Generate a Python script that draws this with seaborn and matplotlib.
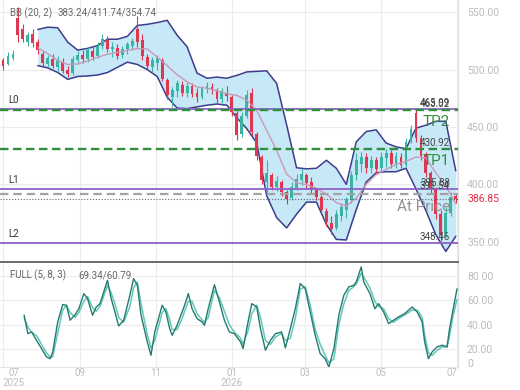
import numpy as np
import pandas as pd
import matplotlib
matplotlib.use("Agg")
import matplotlib.pyplot as plt
from matplotlib.transforms import blended_transform_factory
import seaborn as sns

# ---------------- data ----------------
candle_start = "2025-07-01"
candle_step_days = 4

opens = [508, 505, 510, 545, 535, 524, 531, 524, 514, 505,
         509, 502, 507, 500, 497, 508, 513, 509, 516, 512,
         521, 526, 518, 519, 513, 518, 521, 535, 526, 511,
         502, 506, 508, 491, 476, 481, 487, 480, 486, 480,
         476, 483, 485, 482, 474, 480, 476, 462, 444, 460,
         480, 444, 424, 402, 408, 398, 402, 393, 388, 397,
         404, 408, 402, 395, 389, 377, 366, 362, 372, 378,
         386, 408, 418, 424, 414, 421, 414, 423, 427, 418,
         424, 417, 438, 462, 440, 426, 410, 396, 374, 357,
         375, 390]
highs = [510, 515, 517, 555, 540, 533, 535, 527, 516, 513,
         514, 512, 510, 503, 512, 516, 517, 520, 521, 524,
         531, 529, 524, 522, 521, 524, 528, 547, 531, 514,
         511, 513, 510, 493, 485, 491, 490, 489, 488, 484,
         486, 489, 488, 484, 484, 486, 478, 464, 463, 482,
         484, 446, 426, 421, 410, 407, 404, 395, 402, 409,
         413, 410, 406, 397, 391, 379, 372, 378, 384, 389,
         412, 427, 428, 427, 425, 424, 428, 431, 430, 428,
         427, 440, 452, 466, 443, 428, 412, 398, 378, 380,
         393, 392]
lows = [500, 504, 508, 524, 524, 521, 520, 514, 503, 502,
        501, 499, 497, 494, 495, 505, 506, 507, 508, 510,
        518, 515, 511, 509, 510, 514, 517, 520, 508, 500,
        498, 500, 490, 474, 467, 476, 477, 476, 476, 472,
        474, 480, 479, 471, 471, 473, 460, 439, 441, 458,
        442, 421, 400, 393, 395, 394, 390, 383, 386, 395,
        399, 397, 392, 386, 375, 364, 357, 360, 368, 371,
        384, 404, 411, 410, 410, 410, 412, 415, 414, 414,
        414, 415, 436, 437, 421, 406, 392, 370, 351, 354,
        372, 384]
closes = [503, 512, 514, 530, 527, 530, 523, 517, 506, 510,
          503, 508, 499, 496, 509, 513, 509, 517, 511, 521,
          527, 518, 520, 512, 518, 522, 525, 524, 512, 503,
          508, 510, 492, 478, 482, 488, 480, 486, 479, 476,
          484, 486, 483, 474, 481, 477, 463, 443, 460, 478,
          446, 425, 404, 410, 398, 403, 393, 387, 398, 405,
          409, 401, 395, 389, 378, 367, 361, 374, 380, 386,
          408, 421, 424, 414, 421, 413, 424, 427, 418, 425,
          417, 437, 448, 440, 425, 410, 396, 374, 356, 375,
          389, 386.85]

# Bollinger band values, read at every second candle starting with candle 7
bb_first_candle = 7
bb_upper = [535, 537, 536.5, 524, 517, 518.5, 521, 526.5, 526.5, 529,
            538.5, 539.5, 541, 543, 530, 520, 497, 492.5, 493.5, 492.5,
            495, 498, 498.5, 499, 488, 452, 414.5, 413.5, 414, 421,
            414, 400, 437, 446, 447.5, 436, 432.7, 431, 449, 451.5,
            455, 455, 411.74]
bb_middle = [519, 514, 508, 504.5, 505, 507.5, 510.7, 513.5, 515, 516.8,
             518.3, 518, 511, 503.5, 495.5, 489.5, 484.8, 483.8, 481.5, 479,
             477.5, 473.5, 464.5, 447, 429.5, 409, 401.5, 399.7, 396.5, 391.5,
             384, 381, 388, 400, 408.5, 413, 417.5, 420, 423.8, 423,
             410, 398.5, 383.24]
bb_lower = [503.5, 501.5, 497.5, 491.5, 494, 494.5, 495.3, 497.5, 502, 506.5,
            504.5, 500, 494, 476, 466.5, 466, 467.5, 469, 470, 469,
            458, 448.5, 436, 390, 371, 362, 374, 384.5, 384.5, 365,
            352, 351.5, 378, 402, 410, 411, 411, 414, 396, 377,
            356, 341.5, 354.74]

# Full stochastic (5, 8, 3): day offsets from candle_start, %K and %D
stoch_day = [17, 20, 23, 27, 31, 35, 38, 40, 44, 48,
             51, 54, 58, 61, 65, 68, 72, 75, 78, 84,
             87, 90, 93, 97, 102, 105, 108, 111, 116, 119,
             122, 128, 131, 134, 136, 140, 144, 146, 149, 152,
             156, 160, 162, 165, 170, 174, 178, 182, 186, 191,
             193, 197, 200, 204, 207, 211, 215, 219, 224, 227,
             231, 235, 239, 243, 247, 251, 255, 259, 262, 266,
             270, 274, 278, 282, 284, 288, 290, 295, 299, 302,
             306, 310, 314, 318, 323, 329, 333, 337, 339, 342,
             345, 349, 353, 357, 359, 362, 365]
stoch_k = [47.8, 32.7, 34.1, 27.3, 20.5, 13.7, 12.3, 17.8, 42.3, 56.4,
           55.9, 43.7, 48.2, 53.1, 65.4, 61.3, 47.8, 54.5, 57.2, 76.3,
           61.3, 50.4, 39.0, 43.7, 64.0, 77.6, 72.2, 47.8, 26.0, 15.1,
           34.1, 55.9, 50.4, 36.8, 31.4, 39.6, 50.4, 55.9, 65.4, 53.1,
           45.0, 42.3, 39.6, 53.1, 72.7, 58.6, 43.7, 34.1, 32.7, 26.0,
           20.5, 42.3, 57.2, 54.5, 36.8, 19.2, 27.3, 32.7, 34.1, 21.1,
           36.8, 53.1, 73.6, 69.5, 50.4, 31.4, 16.4, 12.3, 5.5, 20.5,
           47.8, 64.0, 70.9, 72.2, 74.9, 87.2, 74.9, 65.4, 53.1, 57.2,
           50.4, 40.9, 43.7, 46.4, 49.1, 54.5, 50.4, 42.3, 26.0, 12.3,
           17.8, 21.9, 23.3, 21.9, 36.8, 53.1, 69.34]
stoch_d = [46, 38, 34, 31, 24, 17, 13.5, 14, 33, 52,
           56, 50, 46, 50, 59, 63, 54, 51, 55, 72,
           66, 57, 46, 42, 55, 70, 75, 57, 32, 21,
           27, 50, 53, 44, 36, 36, 45, 51, 59, 59,
           49, 44, 42, 46, 68, 62, 51, 40, 34, 29,
           24, 35, 49, 56, 46, 27, 24, 30, 33, 27,
           29, 45, 69, 71, 56, 36, 24, 15, 9, 12,
           40, 57, 68, 71, 73, 82, 79, 70, 59, 55,
           53, 45, 42, 45, 48, 52, 52, 46, 32, 17,
           15, 19, 22, 22, 31, 48, 60.79]

# horizontal levels
level_names = ["L0", "L1", "L2"]
level_values = [465.99, 395.88, 348.46]
tp_names = ["TP2", "TP1"]
tp_values = [464.9, 430.92]
tp_labels = ["463.02", "430.92"]
entry_value = 391.54
last_price = 386.85

price_ticks = [350, 400, 450, 500, 550]
stoch_ticks = [20, 40, 60, 80]
month_ticks = ["2025-07-01", "2025-09-01", "2025-11-01", "2026-01-01",
               "2026-03-01", "2026-05-01", "2026-07-01"]
month_labels = ["07\n2025", "09", "11", "01\n2026", "03", "05", "07"]

# ---------------- styling ----------------
sns.set_theme(style="white")
plt.rcParams['font.family'] = ['Roboto', 'DejaVu Sans']

UP = "#3cb3a2"
DOWN = "#e0364f"
BAND_FILL = "#c6e8f7"
BAND_LINE = "#3e3c8c"
MID_LINE = "#c99ab8"
PURPLE = "#8d62c8"
GREEN = "#2f8f3c"
TICK_C = "#bdbdbd"
GRID_C = "#ececec"

W, H = 520, 390
fig = plt.figure(figsize=(W / 100, H / 100), dpi=100)


def px_rect(x0, y0, x1, y1):
    return [x0 / W, 1 - y1 / H, (x1 - x0) / W, (y1 - y0) / H]


ax = fig.add_axes(px_rect(0, 0, 458, 262))
ax2 = fig.add_axes(px_rect(0, 263, 458, 367), sharex=ax)

start = pd.Timestamp(candle_start)
df = pd.DataFrame({
    "date": pd.date_range(candle_start, periods=len(closes), freq=f"{candle_step_days}D"),
    "open": opens, "high": highs, "low": lows, "close": closes,
})
bb = pd.DataFrame({
    "date": df["date"].iloc[bb_first_candle::2].reset_index(drop=True),
    "upper": bb_upper, "middle": bb_middle, "lower": bb_lower,
})
st = pd.DataFrame({
    "date": start + pd.to_timedelta(stoch_day, unit="D"),
    "k": stoch_k, "d": stoch_d,
})

# Bollinger bands
ax.fill_between(bb["date"], bb["lower"], bb["upper"], color=BAND_FILL, lw=0, zorder=1)
sns.lineplot(data=bb, x="date", y="upper", ax=ax, color=BAND_LINE, lw=1.1, zorder=2)
sns.lineplot(data=bb, x="date", y="lower", ax=ax, color=BAND_LINE, lw=1.1, zorder=2)

# candles
colors = np.where(df["close"] >= df["open"], UP, DOWN)
ax.vlines(df["date"], df["low"], df["high"], colors=colors, lw=0.8, zorder=3)
body = (df["close"] - df["open"]).abs().clip(lower=0.8)
ax.bar(df["date"], body, bottom=np.minimum(df["open"], df["close"]), width=2.3,
       color=colors, lw=0, zorder=3)
sns.lineplot(data=bb, x="date", y="middle", ax=ax, color=MID_LINE, lw=1.0, zorder=4)

# horizontal levels
bt = blended_transform_factory(ax.transAxes, ax.transData)
for name, val in zip(level_names, level_values):
    ax.axhline(val, color=PURPLE, lw=1.3, zorder=5)
    ax.annotate(name, xy=(8 / 458, val), xycoords=bt, xytext=(0, 9),
                textcoords="offset pixels", ha="left", va="center",
                fontsize=7, color="#333333")
    ax.annotate(f"{val:.2f}", xy=(450 / 458, val), xycoords=bt, xytext=(0, 6),
                textcoords="offset pixels", ha="right", va="center",
                fontsize=7, color="#444444", zorder=7)
for name, val, lab in zip(tp_names, tp_values, tp_labels):
    ax.axhline(val, color=GREEN, lw=1.7, dashes=(3.6, 1.9), zorder=5)
    ax.annotate(lab, xy=(450 / 458, val), xycoords=bt, xytext=(0, 6),
                textcoords="offset pixels", ha="right", va="center",
                fontsize=7, color="#444444", zorder=7)
    ax.annotate(name, xy=(450 / 458, val), xycoords=bt, xytext=(0, -12),
                textcoords="offset pixels", ha="right", va="center",
                fontsize=11, color=GREEN, zorder=7)
ax.axhline(entry_value, color="#a3a3a3", lw=1.6, dashes=(3.8, 2.2), zorder=5)
ax.annotate(f"{entry_value:.2f}", xy=(450 / 458, entry_value), xycoords=bt,
            xytext=(0, 8), textcoords="offset pixels", ha="right", va="center",
            fontsize=7, color="#444444", zorder=7)
ax.annotate("At Price", xy=(450 / 458, entry_value), xycoords=bt,
            xytext=(0, -13), textcoords="offset pixels", ha="right", va="center",
            fontsize=11, color="#909090", zorder=7)
ax.axhline(last_price, color="#666666", lw=0.8, dashes=(1, 1.6), zorder=5)
ax.annotate(f"{last_price:.2f}", xy=(1, last_price), xycoords=bt,
            xytext=(9, 0), textcoords="offset pixels", ha="left", va="center",
            fontsize=7.5, color="#e0304a", annotation_clip=False)

# stochastic
sns.lineplot(data=st, x="date", y="d", ax=ax2, color="#63c7b6", lw=1.1)
sns.lineplot(data=st, x="date", y="k", ax=ax2, color="#237a70", lw=1.0)

# axes cosmetics
xmin = start - pd.Timedelta(days=2.4)
xmax = start + pd.Timedelta(days=365.8)
ax.set_xlim(xmin, xmax)
ax.set_ylim(332.3, 560.7)
ax2.set_ylim(5.5, 90.4)

mt = pd.to_datetime(month_ticks)
for a in (ax, ax2):
    a.set_xticks(mt)
    a.grid(True, color=GRID_C, lw=0.8)
    a.set_axisbelow(True)
    a.set_xlabel("")
    a.set_ylabel("")
    a.yaxis.tick_right()
    a.tick_params(axis="both", length=0, labelsize=7.5, labelcolor=TICK_C, pad=6.5)
    a.spines["left"].set_visible(False)
    a.spines["top"].set_visible(False)
    a.spines["right"].set_color("#dddddd")
    a.spines["right"].set_linewidth(0.8)

ax.set_yticks(price_ticks)
ax.set_yticklabels([f"{v:.2f}" for v in price_ticks])
ax.tick_params(axis="x", labelbottom=False)
ax.spines["bottom"].set_color("#6b6b6b")
ax.spines["bottom"].set_linewidth(1.4)

ax2.set_yticks(stoch_ticks)
ax2.set_yticklabels([f"{v:.2f}" for v in stoch_ticks])
ax2.spines["bottom"].set_color("#e4e4e4")
ax2.spines["bottom"].set_linewidth(0.8)
ax2.set_xticklabels(month_labels)
ax2.tick_params(axis="x", pad=0.5, labelsize=7)
for lab in ax2.get_xticklabels():
    lab.set_linespacing(1.05)
xl = ax2.get_xticklabels()
xl[0].set_ha("left")
xl[0].set_multialignment("center")
xl[-1].set_ha("right")
ax2.annotate("0", xy=(1, 0), xycoords="axes fraction", xytext=(9, 3),
             textcoords="offset pixels", ha="left", va="center",
             fontsize=7.5, color=TICK_C, annotation_clip=False)

# header texts
fig.text(10 / W, 1 - 13 / H, "BB (20, 2)", fontsize=7, color="#666666", va="center")
fig.text(58 / W, 1 - 13 / H, f"{bb_middle[-1]:.2f}/{bb_upper[-1]:.2f}/{bb_lower[-1]:.2f}",
         fontsize=7, color="#666666", va="center")
fig.text(10 / W, 1 - 275.5 / H, "FULL (5, 8, 3)", fontsize=7, color="#666666", va="center")
fig.text(78 / W, 1 - 275.5 / H, f"{stoch_k[-1]:.2f}/{stoch_d[-1]:.2f}",
         fontsize=7, color="#666666", va="center")

fig.savefig("out.png", dpi=100, facecolor="white")
